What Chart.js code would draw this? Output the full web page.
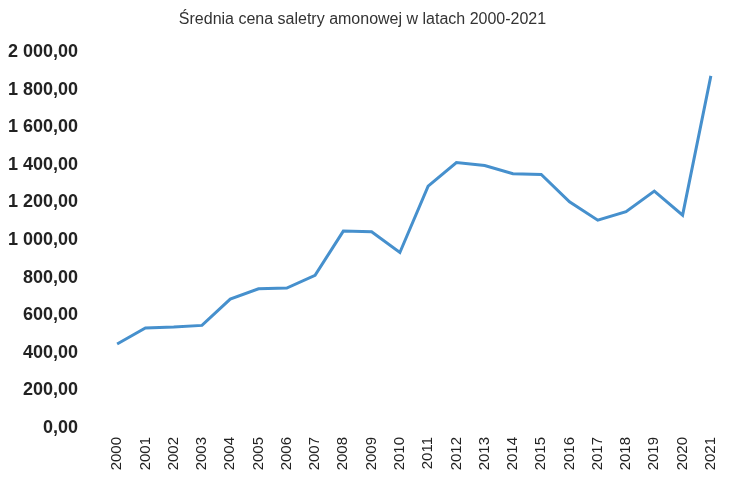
<!DOCTYPE html>
<html>
<head>
<meta charset="utf-8">
<script src="https://cdn.jsdelivr.net/npm/chart.js@4"></script>
<style>
  body { margin: 0; background: #fff; }
  #wrap { width: 735px; height: 491px; }
</style>
</head>
<body>
<div id="wrap"><canvas id="myChart" width="735" height="491"></canvas></div>
<script>
'use strict'
// years on the x axis
const years = ['2000', '2001', '2002', '2003', '2004', '2005', '2006', '2007', '2008', '2009', '2010',
  '2011', '2012', '2013', '2014', '2015', '2016', '2017', '2018', '2019', '2020', '2021'];
// average price
const prices = [447, 532, 537, 546, 686, 741, 745, 812, 1048, 1044, 934,
  1287, 1413, 1397, 1353, 1349, 1204, 1106, 1151, 1261, 1133, 1874];
const yTicks = [0, 200, 400, 600, 800, 1000, 1200, 1400, 1600, 1800, 2000];
const chartTitle = 'Średnia cena saletry amonowej w latach 2000-2021';

function plNumber(v) {
  let parts = v.toFixed(2).split('.');
  let whole = parts[0].replace(/\B(?=(\d{3})+(?!\d))/g, ' ');
  return whole + ',' + parts[1];
}

const ctx = document.getElementById('myChart').getContext('2d');
const myChart = new Chart(ctx, {
  type: 'line',
  data: {
    labels: years,
    datasets: [{
      label: 'cena',
      data: prices,
      borderColor: 'rgb(70, 144, 205)',
      borderWidth: 3,
      pointRadius: 0,
      tension: 0,
      fill: false
    }]
  },
  options: {
    responsive: false,
    animation: false,
    layout: { padding: { left: 0, right: 10, top: 0, bottom: 0 } },
    plugins: {
      legend: { display: false },
      tooltip: { enabled: false },
      title: {
        display: true,
        text: chartTitle,
        color: '#333',
        font: { family: 'Liberation Sans', size: 16, weight: 'normal' },
        padding: { top: 10, bottom: 23 }
      }
    },
    scales: {
      x: {
        offset: true,
        grid: { display: false },
        border: { display: false },
        afterFit: function (scale) { scale.height = 63; },
        ticks: {
          minRotation: 90,
          maxRotation: 90,
          autoSkip: false,
          padding: 1,
          color: '#222',
          font: { family: 'Liberation Sans', size: 15 }
        }
      },
      y: {
        min: 0,
        max: 2000,
        grid: { display: false },
        border: { display: false },
        afterFit: function (scale) { scale.width = 103; },
        afterBuildTicks: function (scale) {
          scale.ticks = yTicks.map(v => ({ value: v }));
        },
        ticks: {
          padding: 17,
          color: '#222',
          font: { family: 'Liberation Sans', size: 18, weight: 'bold' },
          callback: function (value) { return plNumber(value); }
        }
      }
    }
  }
});
</script>
</body>
</html>
